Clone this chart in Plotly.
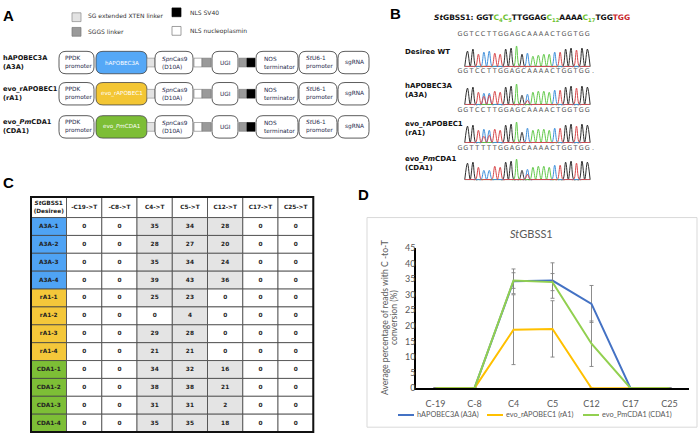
import plotly.graph_objects as go

W, H = 699, 439

# ---------------- Panel D data ----------------
POSITIONS = ["C-19", "C-8", "C4", "C5", "C12", "C17", "C25"]
SERIES_NAMES = ["hAPOBEC3A (A3A)", "evo_rAPOBEC1 (rA1)", "evo_PmCDA1 (CDA1)"]
A3A_MEAN = [0, 0, 34.25, 34.5, 27, 0, 0]
A3A_SD = [None, None, 3.96, 5.68, 5.92, None, None]
RA1_MEAN = [0, 0, 18.75, 19, 0, 0, 0]
RA1_SD = [None, None, 11.19, 9.03, None, None, None]
CDA1_MEAN = [0, 0, 34.5, 34, 14.25, 0, 0]
CDA1_SD = [None, None, 2.5, 2.74, 7.29, None, None]
SERIES_COLORS = ["#4472C4", "#FFC000", "#92D050"]

# ---------------- Panel C data ----------------
TABLE_HEADER = ["<i>St</i>GBSS1<br>(Desiree)", "-C19->T", "-C8->T", "C4->T",
                "C5->T", "C12->T", "C17->T", "C25->T"]
TABLE_ROWS = ["A3A-1", "A3A-2", "A3A-3", "A3A-4", "rA1-1", "rA1-2", "rA1-3", "rA1-4",
              "CDA1-1", "CDA1-2", "CDA1-3", "CDA1-4"]
TABLE_VALUES = [
    [0, 0, 35, 34, 28, 0, 0],
    [0, 0, 28, 27, 20, 0, 0],
    [0, 0, 35, 34, 24, 0, 0],
    [0, 0, 39, 43, 36, 0, 0],
    [0, 0, 25, 23, 0, 0, 0],
    [0, 0, 0, 4, 0, 0, 0],
    [0, 0, 29, 28, 0, 0, 0],
    [0, 0, 21, 21, 0, 0, 0],
    [0, 0, 34, 32, 16, 0, 0],
    [0, 0, 38, 38, 21, 0, 0],
    [0, 0, 31, 31, 2, 0, 0],
    [0, 0, 35, 35, 18, 0, 0],
]
GROUP_COLORS = {"A3A": "#4FA3F4", "rA1": "#F4C73A", "CDA1": "#7DBE36"}

# ---------------- Panel B data ----------------
B_LABELS = ["Desiree WT", "hAPOBEC3A<br>(A3A)", "evo_rAPOBEC1<br>(rA1)", "evo_<i>Pm</i>CDA1<br>(CDA1)"]
B_CALLS = ["GGTCCTTGGAGCAAAACTGGTGG", "GGTCCTTGGAGCAAAACTGGTGG.",
           "GGTCCTTGGAGCAAAACTGGTGG", "GGTTTTTGGAGCAAAACTGGTGG."]
CHROM_SEQ = "GGTCCTTGGAGCAAAACTGGTGG"
CHROM_HEIGHTS = [
    [0.75, 0.85, 0.6, 0.7, 0.75, 0.65, 0.6, 0.85, 0.9, 1.0, 0.6, 0.65, 0.5, 0.55, 0.6, 0.6, 0.7, 0.7, 0.85, 0.9, 0.8, 0.9, 0.85],
    [0.8, 0.85, 0.6, 0.55, 0.55, 0.65, 0.6, 0.85, 0.9, 1.0, 0.45, 0.5, 0.6, 0.65, 0.65, 0.6, 0.7, 0.7, 0.85, 0.9, 0.8, 0.9, 0.85],
    [0.8, 0.85, 0.6, 0.65, 0.6, 0.65, 0.6, 0.85, 0.9, 1.0, 0.5, 0.7, 0.6, 0.65, 0.65, 0.6, 0.7, 0.7, 0.85, 0.9, 0.8, 0.9, 0.85],
    [0.8, 0.85, 0.6, 0.4, 0.45, 0.65, 0.6, 0.85, 0.9, 1.0, 0.45, 0.5, 0.6, 0.65, 0.65, 0.6, 0.7, 0.7, 0.85, 0.9, 0.8, 0.9, 0.85],
]
# secondary peaks: (position, base, height)
CHROM_SECONDARY = [
    [],
    [(3, "T", 0.4), (4, "T", 0.45), (11, "T", 0.2)],
    [(3, "T", 0.3), (4, "T", 0.35)],
    [(3, "C", 0.45), (4, "C", 0.4), (11, "T", 0.25)],
]
BASE_COLORS = {"G": "#2E2E2E", "A": "#62C94A", "C": "#3E8FDB", "T": "#D8474A"}

# ---------------- Panel A data ----------------
A_LABELS = ["hAPOBEC3A<br>(A3A)", "evo_rAPOBEC1<br>(rA1)", "evo_<i>Pm</i>CDA1<br>(CDA1)"]
A_DEAMINASE = ["hAPOBEC3A", "evo_rAPOBEC1", "evo_<i>Pm</i>CDA1"]
A_DEAM_COLORS = ["#55A8F7", "#F3C634", "#7DBE36"]

FONT_A = "DejaVu Sans"
FONT_D = "Lato"

fig = go.Figure()
shapes = []
ann = []


def rr_path(x0, y0, x1, y1, r):
    return (f"M {x0+r},{y0} L {x1-r},{y0} Q {x1},{y0} {x1},{y0+r} L {x1},{y1-r} "
            f"Q {x1},{y1} {x1-r},{y1} L {x0+r},{y1} Q {x0},{y1} {x0},{y1-r} "
            f"L {x0},{y0+r} Q {x0},{y0} {x0+r},{y0} Z")


def rect(x0, y0, x1, y1, fill, line="#333", lw=0.8):
    shapes.append(dict(type="rect", xref="x2", yref="y2", x0=x0, y0=y0, x1=x1, y1=y1,
                       fillcolor=fill, line=dict(color=line, width=lw), layer="below"))


def rbox(x0, y0, x1, y1, fill, r=7, line="#333", lw=0.8):
    shapes.append(dict(type="path", xref="x2", yref="y2", path=rr_path(x0, y0, x1, y1, r),
                       fillcolor=fill, line=dict(color=line, width=lw), layer="below"))


def text(x, y, s, size=7, color="#222", family=FONT_A, xanchor="left", angle=0, align="left"):
    ann.append(dict(x=x, y=y, xref="x2", yref="y2", text=s, showarrow=False,
                    xanchor=xanchor, yanchor="middle", align=align, textangle=angle,
                    font=dict(size=size, color=color, family=family)))


# ---------------- panel letters ----------------
for lab, x, y in [("A", 1, 10), ("B", 388, 8), ("C", 1, 181), ("D", 356, 193)]:
    text(x, y, f"<b>{lab}</b>", size=15, color="#000", family="Liberation Sans")

# ---------------- Panel A ----------------
rect(72, 7, 81, 16, "#E3E3E3", line="#888", lw=0.7)
text(86, 10, "SG extended XTEN linker", size=6, color="#333")
rect(72, 22, 81, 31, "#9A9A9A", line="#777", lw=0.7)
text(86, 26.5, "SGGS linker", size=6, color="#333")
rect(172, 2, 181, 11, "#000000", line="#000", lw=0.7)
text(188, 6.5, "NLS SV40", size=6, color="#333")
rect(172, 21, 181, 30, "#FFFFFF", line="#777", lw=0.7)
text(188, 25.5, "NLS nucleoplasmin", size=6, color="#333")

ROW_Y = [58, 90, 124]
NAVY = "#1F2B4D"
for i, yc in enumerate(ROW_Y):
    y0, y1 = yc - 11.5, yc + 11.5
    s0, s1 = yc - 4.5, yc + 4.5
    text(1, yc, f"<b>{A_LABELS[i]}</b>", size=6.6, color="#111")
    rbox(59, y0, 94, y1, "white")
    text(62.5, yc, "PPDK<br>promoter", size=5.8, color=NAVY)
    rbox(96, y0, 147, y1, A_DEAM_COLORS[i], line="#444")
    text(121.5, yc, A_DEAMINASE[i], size=5.6, color="white", xanchor="center")
    rect(147, s0, 155, s1, "#E3E3E3", line="#888", lw=0.6)
    rbox(155, y0, 193, y1, "white")
    text(160, yc, "<i>Spn</i>Cas9<br>(D10A)", size=5.8, color=NAVY)
    rect(194, s0, 202, s1, "#FFFFFF", line="#777", lw=0.6)
    rect(202, s0, 211, s1, "#9A9A9A", line="#777", lw=0.6)
    rbox(212, y0, 238, y1, "white")
    text(225, yc, "UGI", size=5.8, color=NAVY, xanchor="center")
    rect(239, s0, 247, s1, "#9A9A9A", line="#777", lw=0.6)
    rect(247, s0, 255, s1, "#000000", line="#000", lw=0.6)
    rbox(256, y0, 298, y1, "white")
    text(262, yc, "NOS<br>terminator", size=5.8, color=NAVY)
    rbox(299, y0, 337, y1, "white")
    text(304, yc, "<i>St</i>U6-1<br>promoter", size=5.8, color=NAVY)
    rbox(338, y0, 369, y1, "white")
    text(343, yc, "sgRNA", size=5.8, color=NAVY)

# ---------------- Panel B ----------------
G = "#6CC12E"
text(532, 12, "<b><i>St</i>GBSS1: GGT"
     f"<span style='color:{G}'>C<sub>4</sub>C<sub>5</sub></span>TTGGAG"
     f"<span style='color:{G}'>C<sub>12</sub></span>AAAA"
     f"<span style='color:{G}'>C<sub>17</sub></span>TGG"
     "<span style='color:#C8282D'>TGG</span></b>", size=7.5, color="#111", xanchor="center")

B_LABEL_Y = [47, 87, 126, 162]
SEQ_Y = [29, 67, 107, 146]
CHROM_BASE_Y = [62, 101, 140, 178]
SEQ_X0, SEQ_DX = 460, 5.78
CHROM_X0, CHROM_DX, CHROM_AMP = 467.5, 5.45, 21

for r in range(4):
    text(403, B_LABEL_Y[r], f"<b>{B_LABELS[r]}</b>", size=7, color="#111")
    calls = B_CALLS[r]
    fig.add_trace(go.Scatter(
        x=[SEQ_X0 + k * SEQ_DX for k in range(len(calls))], y=[SEQ_Y[r]] * len(calls),
        text=list(calls), mode="text", textfont=dict(size=6.5, color="#555", family=FONT_A),
        xaxis="x2", yaxis="y2", showlegend=False, hoverinfo="skip"))
    by = CHROM_BASE_Y[r]
    sec = CHROM_SECONDARY[r]
    for b in ["G", "A", "C", "T"]:
        xs, ys = [], []
        for k, base in enumerate(CHROM_SEQ):
            h = CHROM_HEIGHTS[r][k] if base == b else 0
            for (pos, sb, sh) in sec:
                if pos == k and sb == b:
                    h = max(h, sh)
            xc = CHROM_X0 + k * CHROM_DX
            xs += [xc - CHROM_DX / 2, xc]
            ys += [by, by - h * CHROM_AMP]
        xs.append(CHROM_X0 + (len(CHROM_SEQ) - 0.5) * CHROM_DX)
        ys.append(by)
        fig.add_trace(go.Scatter(
            x=xs, y=ys, mode="lines", line=dict(color=BASE_COLORS[b], width=1, shape="spline", smoothing=1.0),
            xaxis="x2", yaxis="y2", showlegend=False, hoverinfo="skip"))

# ---------------- Panel C ----------------
COL_X = [31, 66.5, 101.8, 137, 172.3, 207.5, 242.8, 278, 313.3]
HEAD_Y0, HEAD_Y1 = 196, 217
ROW_H = (437 - HEAD_Y1) / len(TABLE_ROWS)
tx, ty, tt = [], [], []
for c in range(8):
    rect(COL_X[c], HEAD_Y0, COL_X[c + 1], HEAD_Y1, "white", line="#444", lw=0.8)
    tx.append((COL_X[c] + COL_X[c + 1]) / 2)
    ty.append((HEAD_Y0 + HEAD_Y1) / 2)
    tt.append(f"<b>{TABLE_HEADER[c]}</b>")
for r, name in enumerate(TABLE_ROWS):
    ya = HEAD_Y1 + r * ROW_H
    yb = ya + ROW_H
    grp = name.split("-")[0]
    rect(COL_X[0], ya, COL_X[1], yb, GROUP_COLORS[grp], line="#444", lw=0.8)
    tx.append((COL_X[0] + COL_X[1]) / 2)
    ty.append((ya + yb) / 2)
    tt.append(f"<b>{name}</b>")
    for c, v in enumerate(TABLE_VALUES[r]):
        fill = "#E4E4E4" if v > 0 else "white"
        rect(COL_X[c + 1], ya, COL_X[c + 2], yb, fill, line="#444", lw=0.8)
        tx.append((COL_X[c + 1] + COL_X[c + 2]) / 2)
        ty.append((ya + yb) / 2)
        tt.append(f"<b>{v}</b>")
shapes.append(dict(type="rect", xref="x2", yref="y2", x0=COL_X[0], y0=HEAD_Y0, x1=COL_X[-1], y1=437,
                   fillcolor="rgba(0,0,0,0)", line=dict(color="#111", width=2), layer="below"))
fig.add_trace(go.Scatter(x=tx, y=ty, text=tt, mode="text",
                         textfont=dict(size=5.8, color="#222", family=FONT_A),
                         xaxis="x2", yaxis="y2", showlegend=False, hoverinfo="skip"))

# ---------------- Panel D ----------------
shapes.append(dict(type="rect", xref="paper", yref="paper", x0=367 / W, y0=1 - 217 / H,
                   x1=697 / W, y1=1 - 432 / H,
                   fillcolor="rgba(0,0,0,0)", line=dict(color="#D9D9D9", width=1), layer="below"))
for name, mean, sd, col in zip(SERIES_NAMES, [A3A_MEAN, RA1_MEAN, CDA1_MEAN],
                               [A3A_SD, RA1_SD, CDA1_SD], SERIES_COLORS):
    fig.add_trace(go.Scatter(
        x=POSITIONS, y=mean, mode="lines", name=name, line=dict(color=col, width=2),
        error_y=dict(type="data", array=sd, visible=True, color="#808080", thickness=0.9, width=2),
        xaxis="x", yaxis="y", showlegend=False, hoverinfo="skip"))

text(531, 233, "<i>St</i>GBSS1", size=11, color="#595959", family=FONT_D, xanchor="center")
text(385, 320, "Average percentage of reads with C -to-T", size=8.6,
     color="#595959", family=FONT_D, xanchor="center", angle=-90, align="center")
text(394, 320, "conversion (%)", size=8.6,
     color="#595959", family=FONT_D, xanchor="center", angle=-90, align="center")
LEG_X = [398, 487, 583]
for nm, col, lx in zip(SERIES_NAMES, SERIES_COLORS, LEG_X):
    shapes.append(dict(type="line", xref="x2", yref="y2", x0=lx, x1=lx + 16, y0=419.5, y1=419.5,
                       line=dict(color=col, width=2)))
    text(lx + 16.5, 419.5, nm, size=7.3, color="#595959", family=FONT_D)

fig.update_layout(
    width=W, height=H, margin=dict(l=0, r=0, t=0, b=0),
    paper_bgcolor="white", plot_bgcolor="rgba(0,0,0,0)",
    shapes=shapes, annotations=ann, showlegend=False,
    xaxis=dict(domain=[416 / W, 689 / W], type="category", categoryarray=POSITIONS,
               range=[-0.5, 6.5], showline=True, linecolor="black", linewidth=2,
               ticks="outside", ticklen=6, tickcolor="rgba(0,0,0,0)",
               showgrid=False, zeroline=False,
               tickfont=dict(size=9, color="#595959", family=FONT_D), anchor="y"),
    yaxis=dict(domain=[1 - 392 / H, 1 - 248 / H], range=[0, 45], dtick=5,
               showline=True, linecolor="black", linewidth=1.5, ticks="",
               showgrid=False, zeroline=False, ticklabelstandoff=-3,
               tickfont=dict(size=9, color="#595959", family=FONT_D), anchor="x"),
    xaxis2=dict(domain=[0, 1], range=[0, W], visible=False, anchor="y2", fixedrange=True),
    yaxis2=dict(domain=[0, 1], range=[H, 0], visible=False, anchor="x2", fixedrange=True),
)

fig.write_html("out.html", config={"displayModeBar": False},
               post_script="document.body.style.margin='0';document.body.style.padding='0';")
